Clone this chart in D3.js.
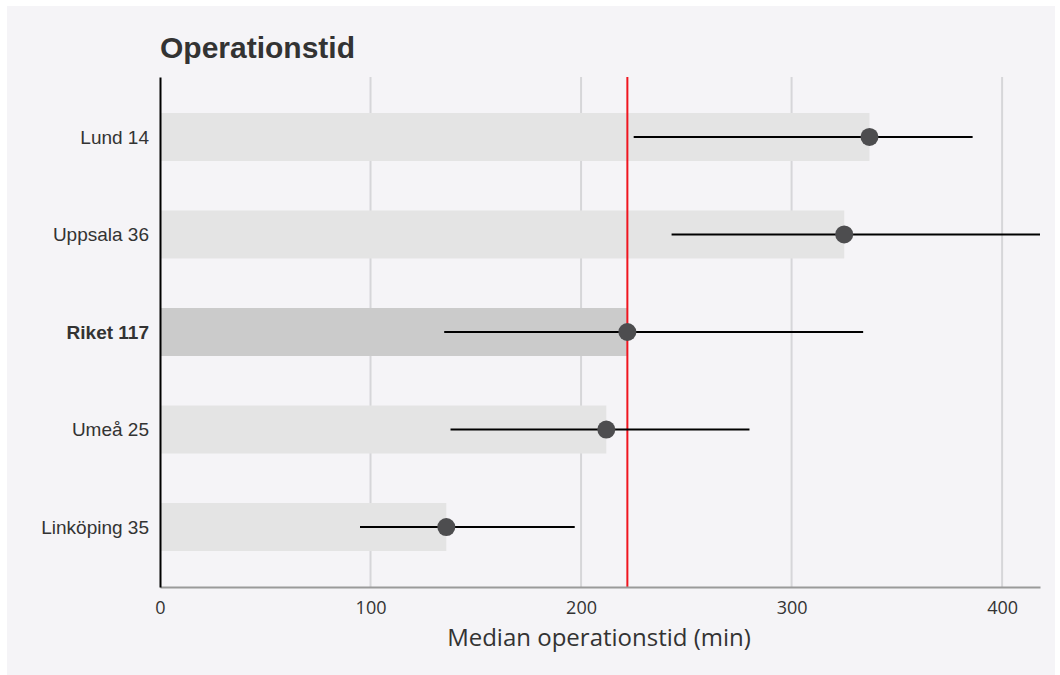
<!DOCTYPE html>
<html>
<head>
<meta charset="utf-8">
<script src="https://cdn.jsdelivr.net/npm/d3@7"></script>
<style>
  body { margin: 0; background: #fff; }
  svg text { font-family: "Liberation Sans", Arial, sans-serif; }
</style>
</head>
<body>
<svg id="chart" width="1060" height="675"></svg>
<script>
let svg = d3.select("#chart");

// data
let units = ["Lund 14", "Uppsala 36", "Riket 117", "Umeå 25", "Linköping 35"];
let medians = [337, 325, 222, 212, 136];
let lowers = [225, 243, 135, 138, 95];
let uppers = [386, 430, 334, 280, 197];
let nationalMedian = 222;
let xTicks = [0, 100, 200, 300, 400];

let data = units.map((u, i) => ({unit: u, median: medians[i], lo: lowers[i], hi: uppers[i]}));

let plotLeft = 160, plotRight = 1040, plotTop = 77, plotBottom = 587;

svg.append("rect")
   .attr("x", 7).attr("y", 6)
   .attr("width", 1048).attr("height", 669)
   .attr("fill", "#f5f4f7");

let xScale = d3.scaleLinear()
               .domain([0, 418])
               .range([plotLeft, plotRight]);

let yScale = d3.scalePoint()
               .domain(units)
               .range([plotTop, plotBottom])
               .padding(0.615);

// grid
svg.append("g")
   .selectAll("line")
   .data(xTicks.filter(t => t > 0))
   .enter()
   .append("line")
   .attr("x1", d => xScale(d)).attr("x2", d => xScale(d))
   .attr("y1", plotTop).attr("y2", plotBottom)
   .attr("stroke", "#d6d6d9")
   .attr("stroke-width", 2);

// bars
let barH = 48;
svg.append("g")
   .selectAll("rect")
   .data(data)
   .enter()
   .append("rect")
   .attr("x", xScale(0))
   .attr("y", d => yScale(d.unit) - barH / 2)
   .attr("width", d => xScale(d.median) - xScale(0))
   .attr("height", barH)
   .attr("fill", d => d.unit.startsWith("Riket") ? "#cbcbcb" : "#e4e4e4");

// reference line
svg.append("line")
   .attr("x1", xScale(nationalMedian)).attr("x2", xScale(nationalMedian))
   .attr("y1", plotTop).attr("y2", plotBottom)
   .attr("stroke", "#f0151f")
   .attr("stroke-width", 2);

// clip for error bars
svg.append("clipPath").attr("id", "plotclip")
   .append("rect")
   .attr("x", plotLeft).attr("y", plotTop)
   .attr("width", plotRight - plotLeft).attr("height", plotBottom - plotTop);

let errs = svg.append("g").attr("clip-path", "url(#plotclip)");

errs.selectAll("line")
    .data(data)
    .enter()
    .append("line")
    .attr("x1", d => xScale(d.lo))
    .attr("x2", d => xScale(d.hi))
    .attr("y1", d => yScale(d.unit))
    .attr("y2", d => yScale(d.unit))
    .attr("stroke", "#000")
    .attr("stroke-width", 2);

errs.selectAll("circle")
    .data(data)
    .enter()
    .append("circle")
    .attr("cx", d => xScale(d.median))
    .attr("cy", d => yScale(d.unit))
    .attr("r", 9)
    .attr("fill", "#4d4d4f");

// x axis
let xAxis = d3.axisBottom(xScale)
              .tickValues(xTicks)
              .tickSize(0)
              .tickPadding(14);

let gx = svg.append("g")
            .attr("transform", `translate(0, ${plotBottom})`)
            .call(xAxis);
gx.select(".domain").attr("stroke", "#9a9a9a").attr("stroke-width", 2);
gx.selectAll("text")
  .attr("font-size", 18)
  .attr("fill", "#333")
  .style("font-family", "'Open Sans', sans-serif");

// y axis
let yAxis = d3.axisLeft(yScale).tickSize(0).tickPadding(11);
let gy = svg.append("g")
            .attr("transform", `translate(${plotLeft}, 0)`)
            .call(yAxis);
gy.select(".domain").attr("stroke", "#000").attr("stroke-width", 2);
gy.selectAll("text")
  .attr("font-size", 19)
  .attr("fill", "#333")
  .attr("font-weight", d => d.startsWith("Riket") ? "bold" : "normal");

// titles
svg.append("text")
   .attr("x", plotLeft)
   .attr("y", 58)
   .attr("font-size", 30)
   .attr("font-weight", "bold")
   .attr("fill", "#333")
   .text("Operationstid");

svg.append("text")
   .attr("x", 599)
   .attr("y", 646)
   .attr("text-anchor", "middle")
   .attr("font-size", 24)
   .attr("fill", "#333")
   .style("font-family", "'Open Sans', sans-serif")
   .text("Median operationstid (min)");
</script>
</body>
</html>
